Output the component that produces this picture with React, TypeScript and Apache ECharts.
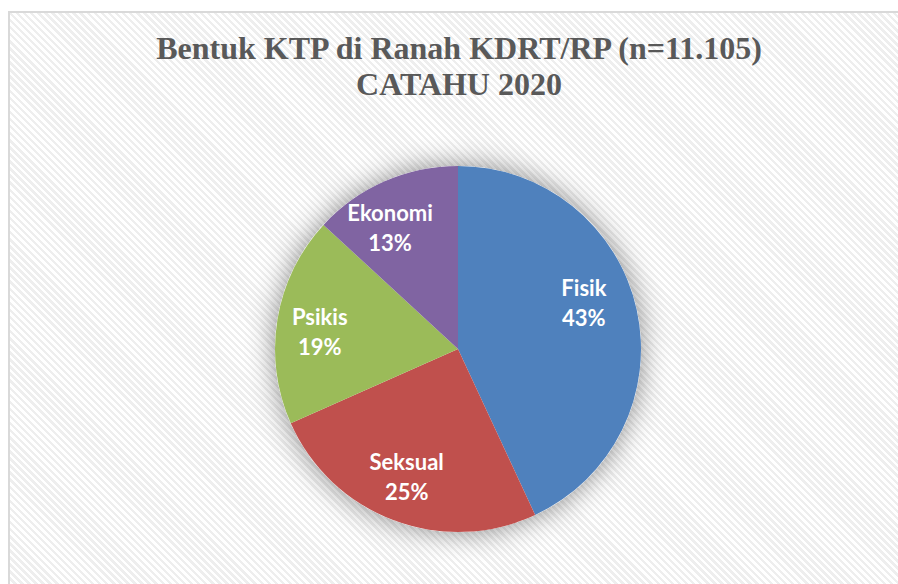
import React, { useEffect, useRef } from "react";
import * as echarts from "echarts";

const categories = ["Fisik", "Seksual", "Psikis", "Ekonomi"];
const values = [4783, 2807, 2056, 1459];
const colors = ["#4f81bd", "#c0504d", "#9bbb59", "#8064a2"];
const titleText = "Bentuk KTP di Ranah KDRT/RP (n=11.105)\nCATAHU 2020";

const labelOffsets: Record<string, number[]> = {
  Fisik: [-3, -18],
  Seksual: [-5, 4],
  Psikis: [-8, 4],
  Ekonomi: [-15, -1],
};

export default function App() {
  const ref = useRef<HTMLDivElement>(null);
  useEffect(() => {
    if (!ref.current) return;
    const chart = echarts.init(ref.current, undefined, { renderer: "svg" });
    const center = [450, 338];
    const R = 183;
    const data = categories.map((c, i) => ({
      name: c,
      value: values[i],
      itemStyle: { color: colors[i] },
    }));
    chart.setOption({
      animation: false,
      title: {
        text: titleText,
        left: "center",
        top: 14,
        textStyle: {
          fontFamily: "Liberation Serif",
          fontWeight: "bold",
          fontSize: 32,
          lineHeight: 36,
          color: "#595959",
        },
      },
      series: [
        {
          type: "pie",
          silent: true,
          center,
          radius: [0, R],
          startAngle: 90,
          label: { show: false },
          labelLine: { show: false },
          itemStyle: {
            color: "#ffffff",
            shadowBlur: 28,
            shadowColor: "rgba(0,0,0,0.45)",
          },
          data: [{ name: "shadow", value: 1 }],
        },
        {
          type: "pie",
          silent: true,
          center,
          radius: [0, R],
          startAngle: 90,
          clockwise: true,
          label: { show: false },
          labelLine: { show: false },
          itemStyle: { borderWidth: 0 },
          data,
        },
        {
          type: "pie",
          silent: true,
          center,
          radius: [75, R],
          startAngle: 90,
          clockwise: true,
          percentPrecision: 0,
          itemStyle: { color: "rgba(0,0,0,0)", borderWidth: 0 },
          labelLine: { show: false },
          label: {
            show: true,
            position: "inside",
            formatter: "{b}\n{d}%",
            color: "#ffffff",
            fontFamily: "Lato",
            fontWeight: "bold",
            fontSize: 22,
            lineHeight: 30,
          },
          data: categories.map((c, i) => ({
            name: c,
            value: values[i],
            label: labelOffsets[c] ? { offset: labelOffsets[c] } : undefined,
          })),
        },
      ],
    });
    return () => chart.dispose();
  }, []);
  return (
    <div
      style={{
        position: "fixed",
        left: 8,
        top: 11,
        width: 890,
        height: 573,
        overflow: "hidden",
        borderLeft: "2px solid #d9d9d9",
        borderTop: "2px solid #d9d9d9",
        boxSizing: "border-box",
        background:
          "repeating-linear-gradient(45deg, #ffffff 0px, #ffffff 2.5px, #eeeeee 2.5px, #eeeeee 5px)",
      }}
    >
      <div ref={ref} style={{ position: "absolute", left: -2, top: -2, width: 902, height: 590 }} />
    </div>
  );
}
